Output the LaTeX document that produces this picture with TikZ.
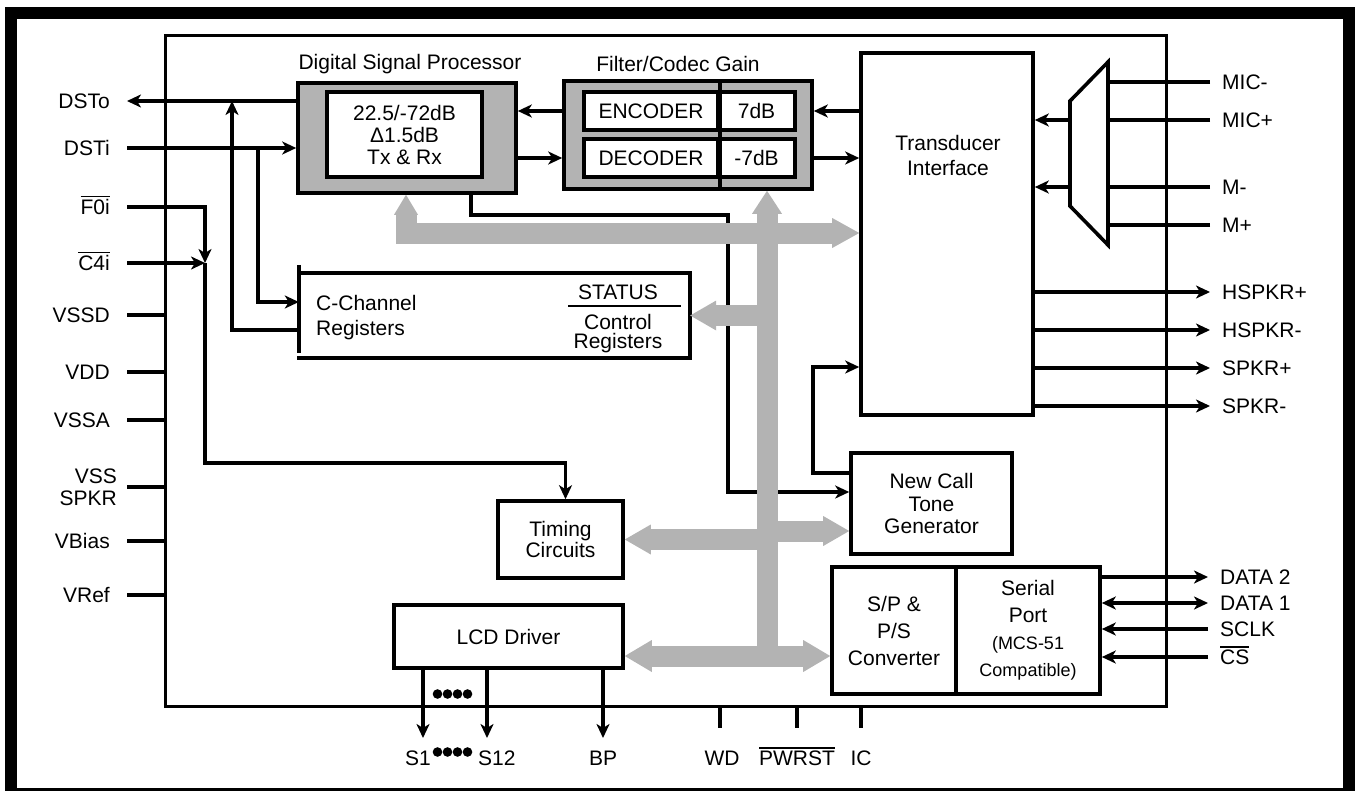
\documentclass[tikz,border=0pt]{standalone}
\usepackage{fontspec}
\setmainfont{Liberation Sans}
\usetikzlibrary{arrows.meta}
\newcommand{\ovl}[1]{\leavevmode\vbox{\hrule height 1.4pt\kern 2pt\hbox{#1}}}

\begin{document}
\begin{tikzpicture}[x=1pt, y=-1pt, font=\fontsize{21}{24}\selectfont,
	>={Stealth[length=14pt,width=13pt,inset=4pt]},
	wire/.style={line width=3.2pt},
	block/.style={draw, line width=3.6pt, fill=white, inner sep=0pt, align=center},
	pinL/.style={anchor=east, inner xsep=17pt, inner ysep=0pt, text height=15pt, text depth=0pt},
	pinR/.style={anchor=west, inner xsep=12pt, inner ysep=0pt, text height=15pt, text depth=0pt},
	pinB/.style={inner sep=0pt, text height=15pt, text depth=0pt},
	bus/.style={draw=busgray, line width=21pt, line join=miter,
		-{Triangle[length=26pt,width=30pt,line width=0pt]}}]
	
	% Farben
	\definecolor{busgray}{RGB}{179,179,179}
	
	% Rahmen
	\useasboundingbox (0,0) rectangle (1356,790);
	\clip (0,0) rectangle (1356,790);
	\draw[line width=12pt] (11,13) rectangle (1349,794);
	
	% Chip
	\node[draw, line width=3pt, minimum width=1001pt, minimum height=671pt] (chip) at (665.5,370.5) {};
	
	% Digital Signal Processor
	\node (dsptitle) at (410,64) {Digital Signal Processor};
	\node[block, fill=busgray, minimum width=218pt, minimum height=110pt] (dsp) at (407,138) {};
	\node[block, minimum width=155pt, minimum height=85pt, font=\fontsize{21}{22}\selectfont] (dspcore) at (404.5,134.5)
	{22.5/-72dB\\Δ1.5dB\\Tx \& Rx};
	
	% Filter/Codec Gain
	\node (fcgtitle) at (678,64) {Filter/Codec Gain};
	\node[block, fill=busgray, minimum width=248pt, minimum height=108pt] (fcg) at (688,135) {};
	\node[block, minimum width=134pt, minimum height=38pt] (enc) at (651,111) {ENCODER};
	\node[block, minimum width=77pt, minimum height=38pt] (encg) at (756.5,111) {7dB};
	\node[block, minimum width=134pt, minimum height=38pt] (dec) at (651,158) {DECODER};
	\node[block, minimum width=77pt, minimum height=38pt] (decg) at (756.5,158) {-7dB};
	\draw[line width=3.6pt] (enc.east |- fcg.north) -- (enc.east |- fcg.south);
	
	% Transducer Interface + Umschalter
	\node[block, minimum width=172pt, minimum height=362pt] (ti) at (947,234) {};
	\node[align=center, font=\fontsize{21}{25}\selectfont] (titext) at (948,155) {Transducer\\Interface};
	\coordinate (muxL) at (1070,150);
	\coordinate (muxR) at (1108,150);
	\draw[line width=3.6pt] (1070,101) -- (1108,62) -- (1108,245) -- (1070,206) -- cycle;
	
	% C-Channel Registers
	\node[minimum width=391pt, minimum height=85pt, inner sep=0pt] (ccr) at (494.5,315.5) {};
	\draw[line width=3.6pt] (ccr.north west) -- (ccr.north east) -- (ccr.south east) -- ([xshift=-2pt]ccr.south west);
	\draw[line width=3.6pt] ([yshift=8pt]ccr.north west) -- ([yshift=5pt]ccr.south west);
	\node[anchor=west, align=left, inner sep=0pt, font=\fontsize{21}{25}\selectfont] (cctext) at (316,318) {C-Channel\\Registers};
	\node[inner sep=0pt] (status) at (618,292) {STATUS};
	\draw[line width=1.6pt] (568,306) -- (681,306);
	\node[align=center, inner sep=0pt, font=\fontsize{21}{19}\selectfont] (ctrl) at (618,334) {Control\\Registers};
	
	% weitere Bloecke
	\node[block, minimum width=125pt, minimum height=77pt, font=\fontsize{21}{21}\selectfont] (tim) at (560.5,539.5) {Timing\\Circuits};
	\node[block, minimum width=161pt, minimum height=101pt, font=\fontsize{21}{22.5}\selectfont] (nct) at (931.5,503.5) {New Call\\Tone\\Generator};
	\node[block, minimum width=229pt, minimum height=63pt] (lcd) at (508.5,636.5) {LCD Driver};
	\node[block, minimum width=124pt, minimum height=127pt, font=\fontsize{21}{27}\selectfont] (spc) at (894,630.5) {S/P \&\\P/S\\Converter};
	\node[block, minimum width=144pt, minimum height=127pt, font=\fontsize{21}{27}\selectfont] (ser) at (1028,630.5)
	{Serial\\Port\\{\fontsize{18}{27}\selectfont (MCS-51}\\{\fontsize{18}{27}\selectfont Compatible)}};
	
	% Pins links
	\node[pinL] (dsto) at (127,101) {DSTo};
	\node[pinL] (dsti) at (127,148) {DSTi};
	\node[pinL] (f0i) at (127,207) {\ovl{F0i}};
	\node[pinL] (c4i) at (127,263) {\ovl{C4i}};
	\node[pinL] (vssd) at (127,315) {VSSD};
	\node[pinL] (vdd) at (127,372) {VDD};
	\node[pinL] (vssa) at (127,420) {VSSA};
	\node[anchor=east, align=right, inner xsep=10pt, inner ysep=0pt, font=\fontsize{21}{22}\selectfont] (vssspkr) at (127,487) {VSS\\SPKR};
	\node[pinL] (vbias) at (127,541) {VBias};
	\node[pinL] (vref) at (127,595) {VRef};
	
	% Pins rechts
	\node[pinR] (micm) at (1210,82) {MIC-};
	\node[pinR] (micp) at (1210,120) {MIC+};
	\node[pinR] (mm) at (1210,187) {M-};
	\node[pinR] (mp) at (1210,225) {M+};
	\node[pinR] (hspkrp) at (1210,292) {HSPKR+};
	\node[pinR] (hspkrm) at (1210,330) {HSPKR-};
	\node[pinR] (spkrp) at (1210,368) {SPKR+};
	\node[pinR] (spkrm) at (1210,406) {SPKR-};
	\node[pinR] (data2) at (1208,577) {DATA 2};
	\node[pinR] (data1) at (1208,603) {DATA 1};
	\node[pinR] (sclk) at (1208,629) {SCLK};
	\node[pinR] (cs) at (1208,657) {\ovl{CS}};
	
	% Pins unten
	\node[pinB, anchor=east] (s1lab) at (431,758) {S1};
	\node[pinB, anchor=west] (s12lab) at (478,758) {S12};
	\node[pinB] (bplab) at (603,758) {BP};
	\node[pinB] (wdlab) at (722,758) {WD};
	\node[pinB] (pwrlab) at (797,758) {\ovl{PWRST}};
	\node[pinB] (iclab) at (861,758) {IC};
	\coordinate (s1) at (423,738);
	\coordinate (s12) at (487,738);
	\coordinate (bp) at (603,738);
	\coordinate (wd) at (720,728);
	\coordinate (pwr) at (797,728);
	\coordinate (ic) at (861,728);
	\foreach \x in {437.5,447.5,457.5,467.5} {
		\fill (\x,694) circle (4.8pt);
		\fill (\x,752) circle (4.8pt);
	}
	
	% Leitungen DSP / C-Channel
	\coordinate (tapo) at (232,101);
	\coordinate (tapi) at (258,148);
	\draw[wire,->] (dsp.west |- dsto) -- (dsto.east);
	\draw[wire,->] (dsti.east) -- (dsti -| dsp.west);
	\draw[wire,->] ([yshift=-14.5pt]ccr.west) -| (tapo);
	\draw[wire,->] (tapi) |- ([yshift=13.5pt]ccr.west);
	
	% Takte
	\coordinate (tapc) at (205,263);
	\coordinate (bendt) at (205,463);
	\draw[wire,->] (f0i.east) -| (tapc);
	\draw[wire,->] (c4i.east) -- (tapc);
	\draw[wire,->] (tapc) -- (bendt) -| ([xshift=5pt]tim.north);
	
	% DSP -> Ruftongenerator -> Transducer
	\coordinate (bendn) at (728,215);
	\coordinate (bendc) at (813,473);
	\draw[wire,->] ([xshift=64pt]dsp.south) |- (bendn) |- ([yshift=11.5pt]nct.west);
	\draw[wire,->] ([yshift=30.5pt]nct.west) -- (bendc) |- ([yshift=-133pt]ti.west);
	
	% Codec
	\draw[wire,->] (fcg.west |- enc) -- (dsp.east |- enc);
	\draw[wire,->] (dsp.east |- dec) -- (fcg.west |- dec);
	\draw[wire,->] (ti.west |- enc) -- (fcg.east |- enc);
	\draw[wire,->] (fcg.east |- dec) -- (ti.west |- dec);
	
	% Mikrofon / Lautsprecher
	\draw[wire] (micm.west) -- (micm.west -| muxR);
	\draw[wire] (micp.west) -- (micp.west -| muxR);
	\draw[wire] (mm.west) -- (mm.west -| muxR);
	\draw[wire] (mp.west) -- (mp.west -| muxR);
	\draw[wire,->] (muxL |- micp) -- (ti.east |- micp);
	\draw[wire,->] (muxL |- mm) -- (ti.east |- mm);
	\draw[wire,->] (ti.east |- hspkrp) -- (hspkrp.west);
	\draw[wire,->] (ti.east |- hspkrm) -- (hspkrm.west);
	\draw[wire,->] (ti.east |- spkrp) -- (spkrp.west);
	\draw[wire,->] (ti.east |- spkrm) -- (spkrm.west);
	
	% Serial Port
	\draw[wire,->] (ser.east |- data2) -- (data2.west);
	\draw[wire,<->] (ser.east |- data1) -- (data1.west);
	\draw[wire,->] (sclk.west) -- (sclk.west -| ser.east);
	\draw[wire,->] (cs.west) -- (cs.west -| ser.east);
	
	% Versorgung
	\draw[wire] (vssd.east) -- (vssd.east -| chip.west);
	\draw[wire] (vdd.east) -- (vdd.east -| chip.west);
	\draw[wire] (vssa.east) -- (vssa.east -| chip.west);
	\draw[wire] (vssspkr.east) -- (vssspkr.east -| chip.west);
	\draw[wire] (vbias.east) -- (vbias.east -| chip.west);
	\draw[wire] (vref.east) -- (vref.east -| chip.west);
	
	% LCD / Steuerpins
	\draw[wire,->] (lcd.south -| s1) -- (s1);
	\draw[wire,->] (lcd.south -| s12) -- (s12);
	\draw[wire,->] (lcd.south -| bp) -- (bp);
	\draw[wire] (chip.south -| wd) -- (wd);
	\draw[wire] (chip.south -| pwr) -- (pwr);
	\draw[wire] (chip.south -| ic) -- (ic);
	
	% interner Bus
	\coordinate (dspbus) at (406,233);
	\coordinate (lcdbus) at (767,656);
	\coordinate (nctbus) at (767,531);
	\draw[bus, {Triangle[length=20pt,width=24pt,line width=0pt]}-{Triangle[length=27pt,width=30pt,line width=0pt]}]
	(dsp.south -| dspbus) -- (dspbus) -- (ti.west |- dspbus);
	\draw[bus, -{Triangle[length=23pt,width=30pt,line width=0pt]}] (lcdbus) -- (fcg.south -| lcdbus);
	\draw[bus] (ccr.east -| lcdbus) -- (ccr.east);
	\draw[bus] (tim.east -| lcdbus) -- (tim.east);
	\draw[bus] (nctbus) -- (nctbus -| nct.west);
	\draw[bus, {Triangle[length=27pt,width=32pt,line width=0pt]}-{Triangle[length=27pt,width=32pt,line width=0pt]}]
	(lcd.east |- lcdbus) -- (spc.west |- lcdbus);
\end{tikzpicture}
\end{document}
